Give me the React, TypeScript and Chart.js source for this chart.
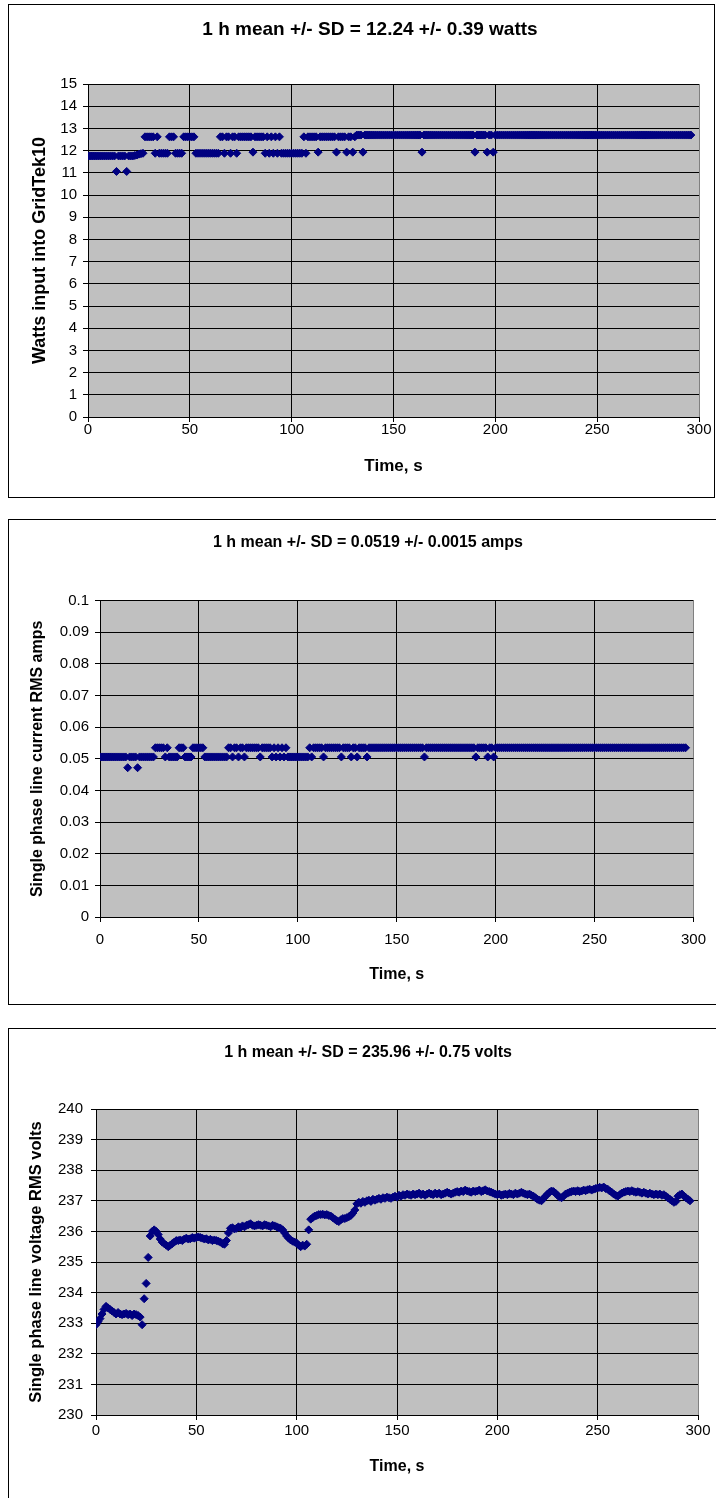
import React, { useEffect, useRef } from "react";
import { Chart, registerables } from "chart.js";

Chart.register(...registerables);

// Sample interval of the logger (seconds per reading)
const SAMPLE_INTERVAL_S = 1;

const X_TICKS = [0, 50, 100, 150, 200, 250, 300];

const TITLE_WATTS = "1 h mean +/- SD = 12.24 +/- 0.39 watts";
const TITLE_AMPS = "1 h mean +/- SD = 0.0519 +/- 0.0015 amps";
const TITLE_VOLTS = "1 h mean +/- SD = 235.96 +/- 0.75 volts";

const Y_LABEL_WATTS = "Watts input into GridTek10";
const Y_LABEL_AMPS = "Single phase line current RMS amps";
const Y_LABEL_VOLTS = "Single phase line voltage RMS volts";
const X_LABEL = "Time, s";

const WATTS = [
  11.76, 11.76, 11.76, 11.76, 11.76, 11.76, 11.76, 11.76, 11.76, 11.76,
  11.76, 11.76, 11.76, 11.76, 11.06, 11.76, 11.76, 11.76, 11.76, 11.06,
  11.76, 11.76, 11.76, 11.78, 11.8, 11.84, 11.86, 11.88, 12.62, 12.62,
  12.62, 12.62, 12.62, 11.88, 12.62, 11.88, 11.88, 11.88, 11.88, 11.88,
  12.62, 12.62, 12.62, 11.88, 11.88, 11.88, 11.88, 12.62, 12.62, 12.62,
  12.62, 12.62, 12.62, 11.88, 11.88, 11.88, 11.88, 11.88, 11.88, 11.88,
  11.88, 11.88, 11.88, 11.88, 11.88, 12.62, 12.62, 11.88, 12.62, 12.62,
  11.88, 12.62, 12.62, 11.88, 12.62, 12.62, 12.62, 12.62, 12.62, 12.62,
  12.62, 11.93, 12.62, 12.62, 12.62, 12.62, 12.62, 11.88, 12.62, 11.88,
  12.62, 11.88, 12.62, 11.88, 12.62, 11.88, 11.88, 11.88, 11.88, 11.88,
  11.88, 11.88, 11.88, 11.88, 11.88, 11.88, 12.62, 11.88, 12.62, 12.62,
  12.62, 12.62, 12.62, 11.93, 12.62, 12.62, 12.62, 12.62, 12.62, 12.62,
  12.62, 12.62, 11.93, 12.62, 12.62, 12.62, 12.62, 11.93, 12.62, 12.62,
  11.93, 12.62, 12.7, 12.7, 12.7, 11.93, 12.7, 12.7, 12.7, 12.7,
  12.7, 12.7, 12.7, 12.7, 12.7, 12.7, 12.7, 12.7, 12.7, 12.7,
  12.7, 12.7, 12.7, 12.7, 12.7, 12.7, 12.7, 12.7, 12.7, 12.7,
  12.7, 12.7, 12.7, 12.7, 11.93, 12.7, 12.7, 12.7, 12.7, 12.7,
  12.7, 12.7, 12.7, 12.7, 12.7, 12.7, 12.7, 12.7, 12.7, 12.7,
  12.7, 12.7, 12.7, 12.7, 12.7, 12.7, 12.7, 12.7, 12.7, 12.7,
  11.93, 12.7, 12.7, 12.7, 12.7, 12.7, 11.93, 12.7, 12.7, 11.93,
  12.7, 12.7, 12.7, 12.7, 12.7, 12.7, 12.7, 12.7, 12.7, 12.7,
  12.7, 12.7, 12.7, 12.7, 12.7, 12.7, 12.7, 12.7, 12.7, 12.7,
  12.7, 12.7, 12.7, 12.7, 12.7, 12.7, 12.7, 12.7, 12.7, 12.7,
  12.7, 12.7, 12.7, 12.7, 12.7, 12.7, 12.7, 12.7, 12.7, 12.7,
  12.7, 12.7, 12.7, 12.7, 12.7, 12.7, 12.7, 12.7, 12.7, 12.7,
  12.7, 12.7, 12.7, 12.7, 12.7, 12.7, 12.7, 12.7, 12.7, 12.7,
  12.7, 12.7, 12.7, 12.7, 12.7, 12.7, 12.7, 12.7, 12.7, 12.7,
  12.7, 12.7, 12.7, 12.7, 12.7, 12.7, 12.7, 12.7, 12.7, 12.7,
  12.7, 12.7, 12.7, 12.7, 12.7, 12.7, 12.7, 12.7, 12.7, 12.7,
  12.7, 12.7, 12.7, 12.7, 12.7, 12.7, 12.7,
];

const AMPS = [
  0.0506, 0.0506, 0.0506, 0.0506, 0.0506, 0.0506, 0.0506, 0.0506, 0.0506, 0.0506,
  0.0506, 0.0506, 0.0506, 0.0506, 0.0472, 0.0506, 0.0506, 0.0506, 0.0506, 0.0472,
  0.0506, 0.0506, 0.0506, 0.0506, 0.0506, 0.0506, 0.0506, 0.0506, 0.0535, 0.0535,
  0.0535, 0.0535, 0.0535, 0.0506, 0.0535, 0.0506, 0.0506, 0.0506, 0.0506, 0.0506,
  0.0535, 0.0535, 0.0535, 0.0506, 0.0506, 0.0506, 0.0506, 0.0535, 0.0535, 0.0535,
  0.0535, 0.0535, 0.0535, 0.0506, 0.0506, 0.0506, 0.0506, 0.0506, 0.0506, 0.0506,
  0.0506, 0.0506, 0.0506, 0.0506, 0.0506, 0.0535, 0.0535, 0.0506, 0.0535, 0.0535,
  0.0506, 0.0535, 0.0535, 0.0506, 0.0535, 0.0535, 0.0535, 0.0535, 0.0535, 0.0535,
  0.0535, 0.0506, 0.0535, 0.0535, 0.0535, 0.0535, 0.0535, 0.0506, 0.0535, 0.0506,
  0.0535, 0.0506, 0.0535, 0.0506, 0.0535, 0.0506, 0.0506, 0.0506, 0.0506, 0.0506,
  0.0506, 0.0506, 0.0506, 0.0506, 0.0506, 0.0506, 0.0535, 0.0506, 0.0535, 0.0535,
  0.0535, 0.0535, 0.0535, 0.0506, 0.0535, 0.0535, 0.0535, 0.0535, 0.0535, 0.0535,
  0.0535, 0.0535, 0.0506, 0.0535, 0.0535, 0.0535, 0.0535, 0.0506, 0.0535, 0.0535,
  0.0506, 0.0535, 0.0535, 0.0535, 0.0535, 0.0506, 0.0535, 0.0535, 0.0535, 0.0535,
  0.0535, 0.0535, 0.0535, 0.0535, 0.0535, 0.0535, 0.0535, 0.0535, 0.0535, 0.0535,
  0.0535, 0.0535, 0.0535, 0.0535, 0.0535, 0.0535, 0.0535, 0.0535, 0.0535, 0.0535,
  0.0535, 0.0535, 0.0535, 0.0535, 0.0506, 0.0535, 0.0535, 0.0535, 0.0535, 0.0535,
  0.0535, 0.0535, 0.0535, 0.0535, 0.0535, 0.0535, 0.0535, 0.0535, 0.0535, 0.0535,
  0.0535, 0.0535, 0.0535, 0.0535, 0.0535, 0.0535, 0.0535, 0.0535, 0.0535, 0.0535,
  0.0506, 0.0535, 0.0535, 0.0535, 0.0535, 0.0535, 0.0506, 0.0535, 0.0535, 0.0506,
  0.0535, 0.0535, 0.0535, 0.0535, 0.0535, 0.0535, 0.0535, 0.0535, 0.0535, 0.0535,
  0.0535, 0.0535, 0.0535, 0.0535, 0.0535, 0.0535, 0.0535, 0.0535, 0.0535, 0.0535,
  0.0535, 0.0535, 0.0535, 0.0535, 0.0535, 0.0535, 0.0535, 0.0535, 0.0535, 0.0535,
  0.0535, 0.0535, 0.0535, 0.0535, 0.0535, 0.0535, 0.0535, 0.0535, 0.0535, 0.0535,
  0.0535, 0.0535, 0.0535, 0.0535, 0.0535, 0.0535, 0.0535, 0.0535, 0.0535, 0.0535,
  0.0535, 0.0535, 0.0535, 0.0535, 0.0535, 0.0535, 0.0535, 0.0535, 0.0535, 0.0535,
  0.0535, 0.0535, 0.0535, 0.0535, 0.0535, 0.0535, 0.0535, 0.0535, 0.0535, 0.0535,
  0.0535, 0.0535, 0.0535, 0.0535, 0.0535, 0.0535, 0.0535, 0.0535, 0.0535, 0.0535,
  0.0535, 0.0535, 0.0535, 0.0535, 0.0535, 0.0535, 0.0535, 0.0535, 0.0535, 0.0535,
  0.0535, 0.0535, 0.0535, 0.0535, 0.0535, 0.0535, 0.0535,
];

const VOLTS = [
  232.95, 233.05, 233.15, 233.3, 233.45, 233.55, 233.5, 233.45, 233.4, 233.35,
  233.3, 233.35, 233.3, 233.28, 233.3, 233.32, 233.28, 233.3, 233.25, 233.3,
  233.28, 233.25, 233.2, 232.95, 233.8, 234.3, 235.15, 235.85, 236.0, 236.05,
  236.0, 235.9, 235.75, 235.65, 235.6, 235.55, 235.5, 235.55, 235.6, 235.65,
  235.7, 235.7, 235.72, 235.7, 235.75, 235.78, 235.75, 235.76, 235.8, 235.78,
  235.8, 235.82, 235.8, 235.78, 235.75, 235.76, 235.72, 235.74, 235.7, 235.72,
  235.7, 235.68, 235.65, 235.6, 235.58, 235.7, 235.95, 236.1, 236.12, 236.08,
  236.1, 236.15, 236.12, 236.18, 236.15, 236.2, 236.22, 236.25, 236.2, 236.18,
  236.2, 236.22, 236.2, 236.18, 236.22, 236.2, 236.18, 236.15, 236.2, 236.18,
  236.15, 236.12, 236.1, 236.05, 235.95, 235.85, 235.78, 235.72, 235.68, 235.65,
  235.62, 235.55, 235.5, 235.55, 235.52, 235.58, 236.05, 236.4, 236.45, 236.5,
  236.52, 236.55, 236.55, 236.56, 236.54, 236.55, 236.52, 236.5, 236.45, 236.4,
  236.35, 236.32, 236.38, 236.42, 236.42, 236.45, 236.48, 236.52, 236.6, 236.7,
  236.9, 236.95, 236.92, 236.98, 236.95, 237.0, 237.02, 236.98, 237.05, 237.02,
  237.05, 237.08, 237.05, 237.1, 237.08, 237.12, 237.1, 237.08, 237.12, 237.15,
  237.12, 237.18, 237.15, 237.2, 237.18, 237.22, 237.2, 237.18, 237.22, 237.2,
  237.22, 237.25, 237.2, 237.22, 237.18, 237.22, 237.25, 237.22, 237.2, 237.25,
  237.22, 237.25, 237.2, 237.22, 237.25, 237.28, 237.25, 237.22, 237.25, 237.28,
  237.3, 237.28, 237.32, 237.3, 237.35, 237.32, 237.3, 237.28, 237.32, 237.3,
  237.32, 237.35, 237.3, 237.33, 237.36, 237.32, 237.3, 237.28, 237.25, 237.22,
  237.2, 237.22, 237.18, 237.2, 237.22, 237.2, 237.24, 237.22, 237.2, 237.25,
  237.22, 237.25, 237.28, 237.25, 237.22, 237.2, 237.22, 237.18, 237.15, 237.1,
  237.05, 237.02, 237.0, 237.08, 237.15, 237.22, 237.28, 237.32, 237.3, 237.25,
  237.18, 237.12, 237.1, 237.15, 237.22, 237.25, 237.28, 237.3, 237.32, 237.3,
  237.33, 237.3, 237.32, 237.35, 237.33, 237.36, 237.38, 237.35, 237.38, 237.4,
  237.42, 237.44, 237.42, 237.45, 237.4, 237.38, 237.32, 237.28, 237.22, 237.18,
  237.15, 237.2, 237.25, 237.28, 237.3, 237.32, 237.3, 237.33, 237.3, 237.28,
  237.3, 237.28, 237.25, 237.28, 237.25, 237.22, 237.25, 237.22, 237.2, 237.22,
  237.2, 237.22, 237.18, 237.2, 237.15, 237.1, 237.05, 237.0, 236.95, 236.98,
  237.15, 237.2, 237.22, 237.15, 237.1, 237.05, 237.0,
];

const FONT = 'Arial, "Liberation Sans", sans-serif';
const NAVY = "#000080";
const PLOT_BG = "#C0C0C0";

const plotBackground = {
  id: "plotBackground",
  beforeDraw(chart: any) {
    const { ctx, chartArea } = chart;
    if (!chartArea) return;
    ctx.save();
    ctx.fillStyle = PLOT_BG;
    ctx.fillRect(chartArea.left, chartArea.top, chartArea.right - chartArea.left, chartArea.bottom - chartArea.top);
    ctx.restore();
  },
};

type Spec = {
  top: number;
  height: number;
  title: string;
  titleSize: number;
  titlePadTop: number;
  titlePadBottom: number;
  padLeft: number;
  padRight: number;
  yWidth: number;
  yTitle: string;
  yTitleSize: number;
  yTitleOffset: number;
  yMin: number;
  yMax: number;
  yStep: number;
  yDecimals: number;
  yTickPad: number;
  xHeight: number;
  xTickPad: number;
  xTitleSize: number;
  xTitlePadBottom: number;
  tickSize: number;
  values: number[];
};

function makeConfig(s: Spec): any {
  const points = s.values.map((v, i) => ({ x: i * SAMPLE_INTERVAL_S, y: v }));
  const gridColor = (max: number) => (ctx: any) =>
    ctx.tick && Math.abs(ctx.tick.value - max) < 1e-9 ? "#808080" : "#000000";
  return {
    type: "scatter",
    data: {
      datasets: [
        {
          data: points,
          pointStyle: "rectRot",
          pointRadius: 4,
          pointBorderWidth: 1,
          backgroundColor: NAVY,
          borderColor: NAVY,
          showLine: false,
        },
      ],
    },
    options: {
      responsive: false,
      animation: false,
      devicePixelRatio: 1,
      layout: { padding: { left: s.padLeft, right: s.padRight, top: 0, bottom: 0 } },
      plugins: {
        legend: { display: false },
        tooltip: { enabled: false },
        title: {
          display: true,
          text: s.title,
          color: "#000",
          font: { family: FONT, size: s.titleSize, weight: "bold", lineHeight: 1 },
          padding: { top: s.titlePadTop, bottom: s.titlePadBottom },
        },
      },
      scales: {
        x: {
          type: "linear",
          min: X_TICKS[0],
          max: X_TICKS[X_TICKS.length - 1],
          afterBuildTicks: (axis: any) => {
            axis.ticks = X_TICKS.map((v) => ({ value: v }));
          },
          afterFit: (axis: any) => {
            axis.height = s.xHeight;
          },
          grid: {
            color: gridColor(X_TICKS[X_TICKS.length - 1]),
            lineWidth: 1,
            tickLength: 5,
            tickColor: "#000",
          },
          border: { display: true, color: "#000", width: 1 },
          ticks: {
            color: "#000",
            padding: s.xTickPad,
            maxRotation: 0,
            font: { family: FONT, size: s.tickSize, lineHeight: 1 },
          },
          title: {
            display: true,
            text: X_LABEL,
            color: "#000",
            font: { family: FONT, size: s.xTitleSize, weight: "bold", lineHeight: 1 },
            padding: { top: 0, bottom: s.xTitlePadBottom },
          },
        },
        y: {
          type: "linear",
          min: s.yMin,
          max: s.yMax,
          afterBuildTicks: (axis: any) => {
            const t: any[] = [];
            const n = Math.round((s.yMax - s.yMin) / s.yStep);
            for (let i = 0; i <= n; i++) t.push({ value: s.yMin + i * s.yStep });
            axis.ticks = t;
          },
          afterFit: (axis: any) => {
            axis.width = s.yWidth;
          },
          grid: {
            color: "#000",
            lineWidth: 1,
            tickLength: 5,
            tickColor: "#000",
          },
          border: { display: true, color: "#000", width: 1 },
          ticks: {
            color: "#000",
            padding: s.yTickPad,
            font: { family: FONT, size: s.tickSize, lineHeight: 1 },
            callback: (v: any) => String(Number(Number(v).toFixed(s.yDecimals))),
          },
          title: {
            display: true,
            text: s.yTitle,
            color: "#000",
            font: { family: FONT, size: s.yTitleSize, weight: "bold", lineHeight: 1 },
            padding: { top: s.yTitleOffset - s.yTitleSize / 2, bottom: 0 },
          },
        },
      },
    },
    plugins: [plotBackground],
  };
}

const SPECS: Spec[] = [
  {
    top: 0,
    height: 508,
    title: TITLE_WATTS,
    titleSize: 19,
    titlePadTop: 20.5,
    titlePadBottom: 44.5,
    padLeft: 41,
    padRight: 17,
    yWidth: 47,
    yTitle: Y_LABEL_WATTS,
    yTitleSize: 18,
    yTitleOffset: -1,
    yMin: 0,
    yMax: 15,
    yStep: 1,
    yDecimals: 0,
    yTickPad: 6,
    xHeight: 91,
    xTickPad: 0,
    xTitleSize: 17,
    xTitlePadBottom: 33.5,
    tickSize: 15,
    values: WATTS,
  },
  {
    top: 508,
    height: 508,
    title: TITLE_AMPS,
    titleSize: 16,
    titlePadTop: 26.5,
    titlePadBottom: 50.2,
    padLeft: 36,
    padRight: 16,
    yWidth: 64,
    yTitle: Y_LABEL_AMPS,
    yTitleSize: 16,
    yTitleOffset: 2,
    yMin: 0,
    yMax: 0.1,
    yStep: 0.01,
    yDecimals: 2,
    yTickPad: 6,
    xHeight: 99,
    xTickPad: 10,
    xTitleSize: 16,
    xTitlePadBottom: 33,
    tickSize: 15,
    values: AMPS,
  },
  {
    top: 1016,
    height: 482,
    title: TITLE_VOLTS,
    titleSize: 16,
    titlePadTop: 29,
    titlePadBottom: 48,
    padLeft: 38,
    padRight: 18,
    yWidth: 58,
    yTitle: Y_LABEL_VOLTS,
    yTitleSize: 16.5,
    yTitleOffset: -2,
    yMin: 230,
    yMax: 240,
    yStep: 1,
    yDecimals: 0,
    yTickPad: 8,
    xHeight: 83,
    xTickPad: 3.5,
    xTitleSize: 16,
    xTitlePadBottom: 23,
    tickSize: 15,
    values: VOLTS,
  },
];

function ChartCanvas({ spec }: { spec: Spec }) {
  const ref = useRef<HTMLCanvasElement | null>(null);
  useEffect(() => {
    if (!ref.current) return;
    const chart = new Chart(ref.current, makeConfig(spec));
    return () => chart.destroy();
  }, [spec]);
  return (
    <canvas
      ref={ref}
      width={716}
      height={spec.height}
      style={{ position: "absolute", left: 0, top: spec.top, width: 716, height: spec.height, display: "block" }}
    />
  );
}

const BOXES = [
  { left: 8, top: 4, width: 707, height: 494 },
  { left: 8, top: 519, width: 720, height: 486 },
  { left: 8, top: 1028, width: 720, height: 500 },
];

export default function App() {
  return (
    <div
      style={{
        position: "absolute",
        left: 0,
        top: 0,
        width: 716,
        height: 1498,
        overflow: "hidden",
        background: "#fff",
      }}
    >
      {BOXES.map((b, i) => (
        <div
          key={i}
          style={{
            position: "absolute",
            left: b.left,
            top: b.top,
            width: b.width,
            height: b.height,
            border: "1px solid #000",
            boxSizing: "border-box",
          }}
        />
      ))}
      {SPECS.map((s, i) => (
        <ChartCanvas key={i} spec={s} />
      ))}
    </div>
  );
}
